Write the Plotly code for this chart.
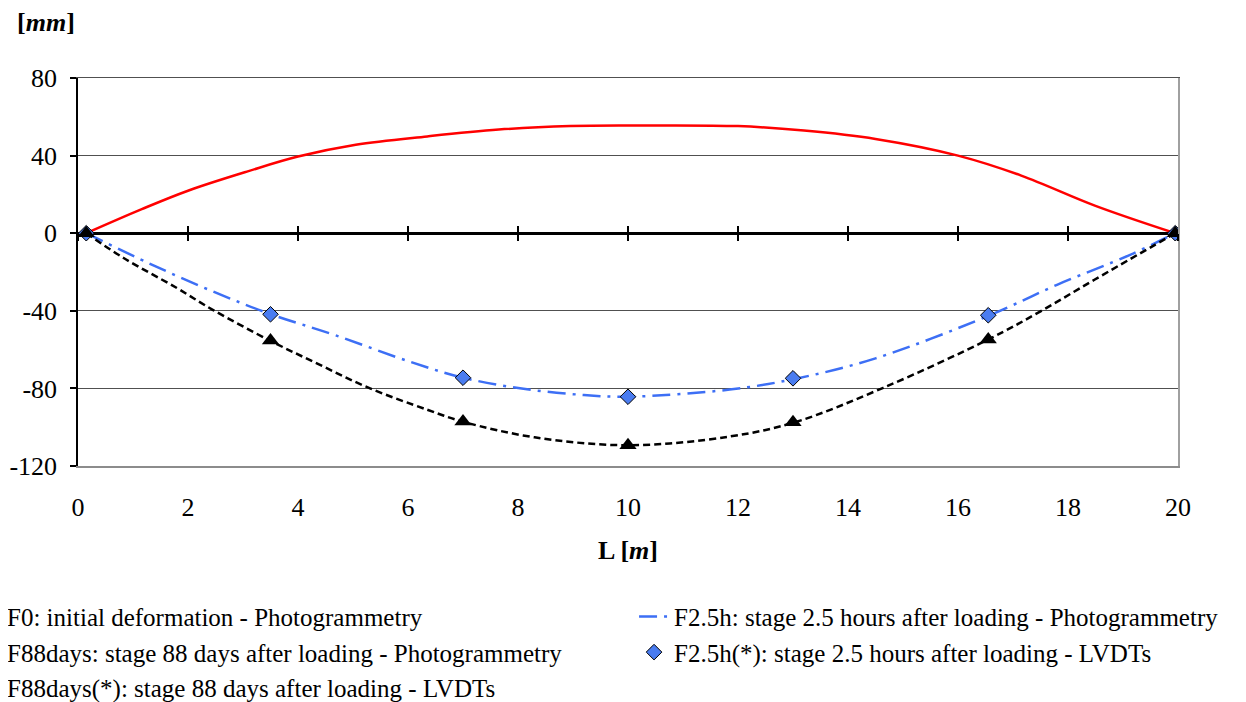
import plotly.graph_objects as go

# ---------------- data ----------------
# Photogrammetry curves (x in m, deflection in mm)
x_f0 = [0.15, 1.16, 2.0, 3.1, 4.0, 5.05, 6.35, 7.65, 8.95, 10.0, 12.0, 13.2, 14.5, 16.0, 17.15, 18.5, 19.95]
y_f0 = [0, 12.4, 21.9, 32.0, 39.5, 45.6, 49.9, 53.4, 55.2, 55.5, 55.2, 52.9, 48.6, 40.0, 29.7, 14.1, 0]

x_f25 = [0.15, 1.32, 2.45, 3.5, 4.66, 6.03, 7.0, 8.1, 9.2, 10.0, 11.85, 13.05, 14.5, 16.57, 17.8, 19.14, 19.95]
y_f25 = [0, -15.9, -30.0, -41.7, -52.4, -66.2, -74.5, -80.2, -83.4, -84.3, -80.6, -75.0, -64.5, -42.4, -26.6, -11.0, 0]

x_f88 = [0.15, 0.83, 1.8, 2.45, 3.5, 4.4, 5.31, 6.35, 7.0, 8.3, 10.0, 11.85, 13.05, 14.64, 16.57, 17.5, 18.48, 19.95]
y_f88 = [0, -12.8, -28.3, -39.5, -55.5, -67.9, -80.0, -91.0, -97.2, -105.2, -109.3, -104.8, -97.3, -79.7, -54.5, -40.3, -24.0, 0]

# LVDT measurements
x_lvdt = [0.15, 3.5, 7.0, 10.0, 13.0, 16.55, 19.95]
f25_lvdt = [0, -41.8, -74.5, -84.3, -74.8, -42.3, 0]
f88_lvdt = [0, -55.3, -97.1, -109.3, -97.5, -54.8, 0]

names = [
    "F0: initial deformation - Photogrammetry",
    "F2.5h: stage 2.5 hours after loading - Photogrammetry",
    "F88days: stage 88 days after loading - Photogrammetry",
    "F2.5h(*): stage 2.5 hours after loading - LVDTs",
    "F88days(*): stage 88 days after loading - LVDTs",
]

x_ticks = [0, 2, 4, 6, 8, 10, 12, 14, 16, 18, 20]
y_ticks = [-120, -80, -40, 0, 40, 80]
y_ticktext = [str(v) for v in y_ticks]

FONT = "Liberation Serif, Times New Roman, serif"
FS = 26
LFS = 25
BLUE_LINE = "#3d6ff5"
BLUE_MARK = "#4a7cf0"

fig = go.Figure()

fig.add_trace(go.Scatter(
    x=x_f0, y=y_f0, mode="lines", name=names[0], legend="legend",
    line=dict(color="#ff0000", width=2.5, shape="spline", smoothing=1.0)))
fig.add_trace(go.Scatter(
    x=x_f25, y=y_f25, mode="lines", name=names[1], legend="legend2",
    line=dict(color=BLUE_LINE, width=2.5, dash="18px,7px,3px,7px", shape="spline", smoothing=1.0)))
fig.add_trace(go.Scatter(
    x=x_f88, y=y_f88, mode="lines", name=names[2], legend="legend",
    line=dict(color="#000000", width=2.5, dash="7px,4px", shape="spline", smoothing=1.0)))
fig.add_trace(go.Scatter(
    x=x_lvdt, y=f25_lvdt, mode="markers", name=names[3], legend="legend2",
    marker=dict(symbol="diamond", size=12, color=BLUE_MARK, line=dict(color="#000000", width=1))))
fig.add_trace(go.Scatter(
    x=x_lvdt, y=f88_lvdt, mode="markers", name=names[4], legend="legend",
    marker=dict(symbol="triangle-up", size=15, color="#000000", line=dict(color="#000000", width=0))))

# empty helper traces so that the decorative overlay axes are drawn
for xa, ya in [("x2", "y"), ("x3", "y"), ("x4", "y"), ("x", "y2")]:
    fig.add_trace(go.Scatter(x=[], y=[], xaxis=xa, yaxis=ya, showlegend=False, hoverinfo="skip"))

# the page body has an 8px margin, so the figure is 8px smaller than the window
fig.update_layout(
    width=1238, height=694,
    margin=dict(l=70, r=68, t=70, b=236, autoexpand=False),
    paper_bgcolor="white", plot_bgcolor="white",
    font=dict(family=FONT, size=FS, color="black"),
    showlegend=True,
    xaxis=dict(
        range=[0, 20], tickvals=x_ticks, ticks="", showgrid=False, zeroline=False,
        showline=True, linecolor="#8c8c8c", linewidth=1.5,
        tickfont=dict(family=FONT, size=FS, color="black"), ticklabelstandoff=17,
    ),
    xaxis2=dict(
        range=[0, 20], tickvals=x_ticks, overlaying="x", anchor="free", position=0.6,
        ticks="inside", ticklen=7, tickwidth=1.5, tickcolor="black",
        showticklabels=False, showgrid=False, zeroline=False, showline=False,
    ),
    xaxis3=dict(
        range=[0, 20], tickvals=x_ticks, overlaying="x", anchor="free", position=0.6,
        ticks="outside", ticklen=7, tickwidth=1.5, tickcolor="black",
        showticklabels=False, showgrid=False, zeroline=False, showline=False,
    ),
    xaxis4=dict(
        range=[0, 20], overlaying="x", side="top", anchor="y", showline=True,
        linecolor="#505050", linewidth=1.4, ticks="", showticklabels=False,
        showgrid=False, zeroline=False,
    ),
    yaxis=dict(
        range=[-120, 80], tickvals=y_ticks, ticktext=y_ticktext,
        showgrid=True, gridcolor="#505050", gridwidth=1.4,
        zeroline=True, zerolinecolor="black", zerolinewidth=2.5,
        showline=True, linecolor="black", linewidth=1.5,
        ticks="outside", ticklen=6, tickwidth=1.5, tickcolor="black",
        tickfont=dict(family=FONT, size=FS, color="black"), ticklabelstandoff=8,
    ),
    yaxis2=dict(
        range=[-120, 80], overlaying="y", side="right", anchor="x", showline=True,
        linecolor="#a0a0a0", linewidth=1.5, showgrid=False, zeroline=False,
        showticklabels=False, ticks="",
    ),
    legend=dict(
        xref="paper", yref="paper", x=-0.1009, y=-0.3295, xanchor="left", yanchor="top",
        orientation="v", tracegroupgap=0, bgcolor="rgba(0,0,0,0)",
        font=dict(family=FONT, size=LFS, color="black"), traceorder="normal",
    ),
    legend2=dict(
        xref="paper", yref="paper", x=0.5055, y=-0.3295, xanchor="left", yanchor="top",
        orientation="v", tracegroupgap=0, bgcolor="rgba(0,0,0,0)",
        font=dict(family=FONT, size=LFS, color="black"), traceorder="normal",
    ),
    annotations=[
        dict(text="<b>[<i>mm</i>]</b>", xref="paper", yref="paper", x=-0.0291, y=1.144,
             xanchor="center", yanchor="middle", showarrow=False,
             font=dict(family=FONT, size=FS, color="black")),
        dict(text="<b>L [<i>m</i>]</b>", xref="paper", yref="paper", x=0.5, y=-0.2165,
             xanchor="center", yanchor="middle", showarrow=False,
             font=dict(family=FONT, size=FS, color="black")),
    ],
)

fig.write_html("out.html")
